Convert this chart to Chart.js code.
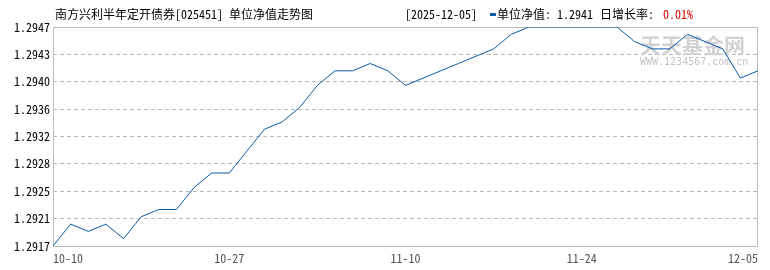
<!DOCTYPE html>
<html>
<head>
<meta charset="utf-8">
<script src="https://cdn.jsdelivr.net/npm/chart.js@4.4.1/dist/chart.umd.min.js"></script>
<style>
  html, body { margin: 0; padding: 0; background: #fff; }
</style>
</head>
<body>
<canvas id="myChart" width="770" height="270"></canvas>
<script>
// trading days shown on the chart
const dates = [
  "10-10",
  "10-13","10-14","10-15","10-16","10-17",
  "10-20","10-21","10-22","10-23","10-24",
  "10-27","10-28","10-29","10-30","10-31",
  "11-03","11-04","11-05","11-06","11-07",
  "11-10","11-11","11-12","11-13","11-14",
  "11-17","11-18","11-19","11-20","11-21",
  "11-24","11-25","11-26","11-27","11-28",
  "12-01","12-02","12-03","12-04","12-05"
];

// unit NAV
const nav = [
  1.2917,
  1.2920,1.2919,1.2920,1.2918,1.2921,
  1.2922,1.2922,1.2925,1.2927,1.2927,
  1.2930,1.2933,1.2934,1.2936,1.2939,
  1.2941,1.2941,1.2942,1.2941,1.2939,
  1.2940,1.2941,1.2942,1.2943,1.2944,
  1.2946,1.2947,1.2947,1.2947,1.2947,
  1.2947,1.2947,1.2945,1.2944,1.2944,
  1.2946,1.2945,1.2944,1.2940,1.2941
];

const yMin = 1.2917, yMax = 1.2947;
const yTickLabels = ["1.2917","1.2921","1.2925","1.2928","1.2932","1.2936","1.2940","1.2943","1.2947"];
const xTickIndex = [0, 10, 20, 30, 40];
const xTickLabels = ["10-10","10-27","11-10","11-24","12-05"];

const lineColor = "#0b5aa8";
const gridColor = "#b9b9b9";
const monoFont = "'Noto Sans Mono CJK SC', 'Noto Sans CJK SC', 'DejaVu Sans Mono', sans-serif";

// solid frame round the plot + site watermark
const frame = {
  id: "frame",
  beforeDatasetsDraw(chart) {
    const { ctx, chartArea: a } = chart;
    ctx.save();
    ctx.strokeStyle = "#bdbdbd";
    ctx.lineWidth = 1;
    ctx.strokeRect(Math.round(a.left) + 0.5, Math.round(a.top) + 0.5,
                   Math.round(a.right - a.left) - 1, Math.round(a.bottom - a.top));
    ctx.fillStyle = "#d2d2d2";
    ctx.textBaseline = "middle";
    ctx.font = "bold 21px 'Noto Sans CJK SC', sans-serif";
    ctx.fillText("天天基金网", 640, 45);
    ctx.fillStyle = "#c4c4c4";
    ctx.font = "10px 'DejaVu Sans Mono', monospace";
    ctx.fillText("WWW.1234567.com.cn", 640, 62);
    ctx.restore();
  }
};

// header line: title on the left, latest value on the right
const header = {
  id: "header",
  afterDraw(chart) {
    const ctx = chart.ctx;
    const last = nav[nav.length - 1], prev = nav[nav.length - 2];
    const rate = ((last / prev - 1) * 100).toFixed(2) + "%";
    ctx.save();
    ctx.font = "12px " + monoFont;
    ctx.textBaseline = "middle";
    ctx.fillStyle = "#000";
    ctx.fillText("南方兴利半年定开债券[025451] 单位净值走势图", 55, 14);
    ctx.fillText("[2025-" + dates[dates.length - 1] + "]", 405, 14);
    ctx.fillStyle = lineColor;
    ctx.fillRect(490, 13, 6, 3);
    ctx.fillStyle = "#000";
    ctx.fillText("单位净值: " + last.toFixed(4), 497, 14);
    ctx.fillText("日增长率:", 600, 14);
    ctx.fillStyle = "#e00000";
    ctx.fillText(rate, 663, 14);
    ctx.restore();
  }
};

new Chart(document.getElementById("myChart"), {
  type: "line",
  data: {
    labels: dates,
    datasets: [{
      data: nav,
      borderColor: lineColor,
      borderWidth: 1,
      pointRadius: 0,
      tension: 0,
      fill: false
    }]
  },
  options: {
    responsive: false,
    animation: false,
    devicePixelRatio: 1,
    layout: { padding: { top: 27, right: 12, left: 0, bottom: 0 } },
    plugins: { legend: { display: false }, tooltip: { enabled: false }, title: { display: false } },
    scales: {
      x: {
        type: "category",
        offset: false,
        grid: {
          drawTicks: false,
          color: c => [10, 20, 30].includes(c.index) ? gridColor : "transparent"
        },
        border: { display: false, dash: [4, 3] },
        ticks: {
          autoSkip: false,
          maxRotation: 0,
          align: "inner",
          padding: 5,
          color: "#555",
          font: { family: monoFont, size: 12 },
          callback: (v, i) => {
            const k = xTickIndex.indexOf(i);
            return k >= 0 ? xTickLabels[k] : null;
          }
        },
        afterFit: s => { s.height = 24; }
      },
      y: {
        min: yMin,
        max: yMax,
        afterBuildTicks: s => {
          const n = yTickLabels.length;
          s.ticks = yTickLabels.map((l, i) => ({ value: yMin + i * (yMax - yMin) / (n - 1) }));
        },
        grid: { drawTicks: false, color: gridColor },
        border: { display: false, dash: [4, 3] },
        ticks: {
          padding: 3,
          color: "#000",
          font: { family: monoFont, size: 12 },
          callback: (v, i) => yTickLabels[i]
        },
        afterFit: s => { s.width = 53; }
      }
    }
  },
  plugins: [frame, header]
});
</script>
</body>
</html>
